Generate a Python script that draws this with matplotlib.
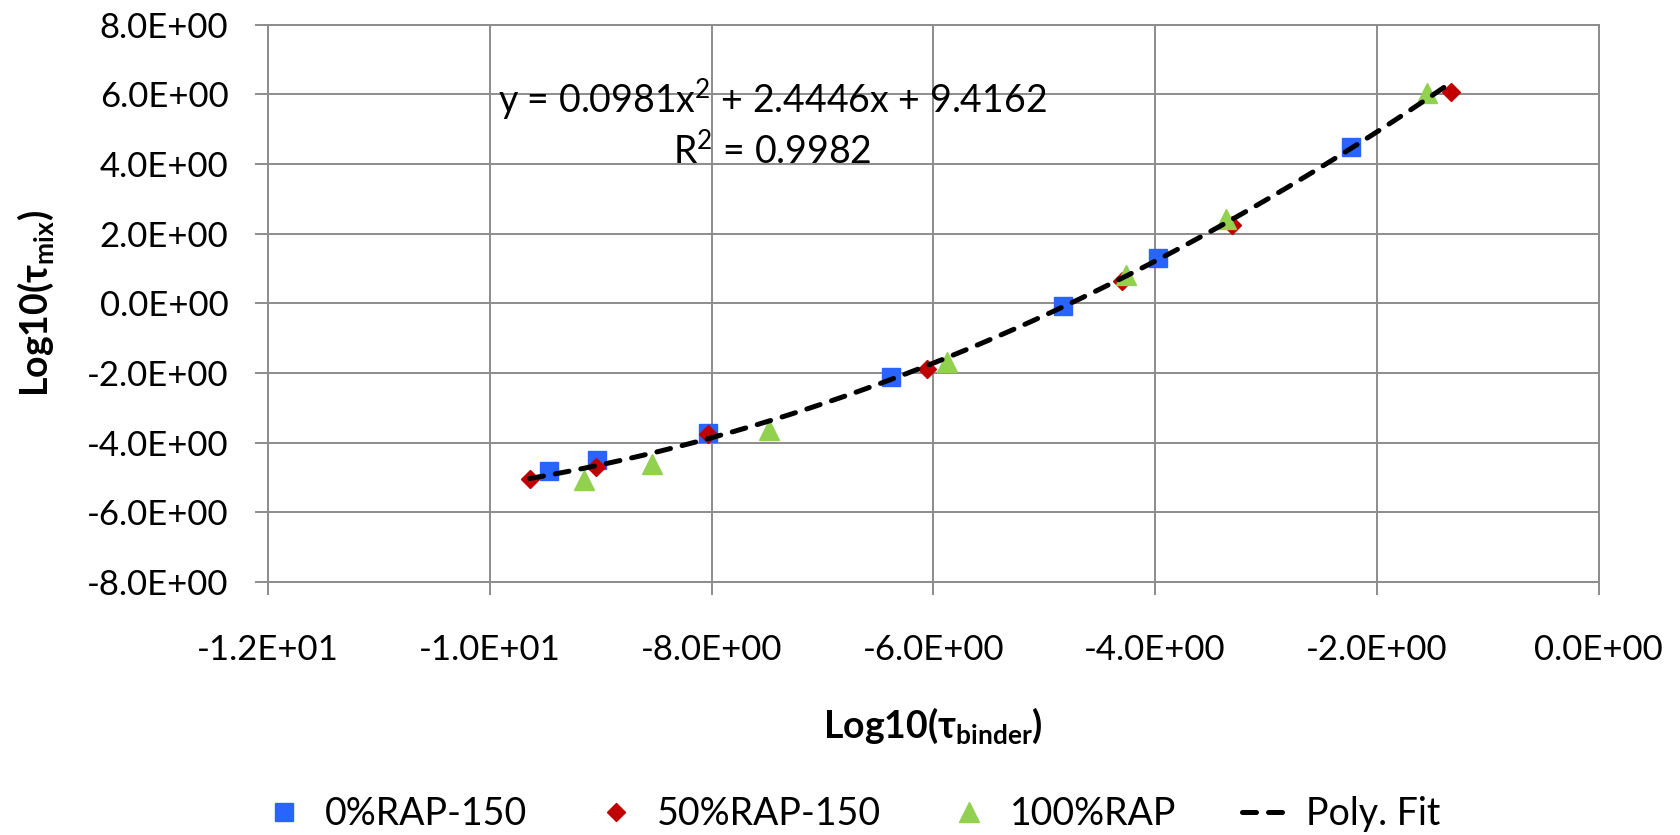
import matplotlib
matplotlib.use("Agg")
import matplotlib.pyplot as plt
import numpy as np
from matplotlib.ticker import FuncFormatter, MultipleLocator

plt.rcParams['font.family'] = ['Lato', 'DejaVu Sans']
plt.rcParams['mathtext.fontset'] = 'custom'
plt.rcParams['mathtext.rm'] = 'Lato'
plt.rcParams['mathtext.bf'] = 'Lato:bold'
plt.rcParams['mathtext.fallback'] = 'stixsans'

# data (log10 values)
x_rap0 = [-9.47, -9.03, -8.03, -6.38, -4.83, -3.97, -2.23]
y_rap0 = [-4.82, -4.51, -3.73, -2.13, -0.08, 1.29, 4.48]
x_rap50 = [-9.64, -9.04, -8.03, -6.06, -4.30, -3.31, -1.33]
y_rap50 = [-5.06, -4.70, -3.75, -1.88, 0.64, 2.24, 6.07]
x_rap100 = [-9.15, -8.54, -7.48, -5.88, -4.26, -3.36, -1.55]
y_rap100 = [-5.07, -4.61, -3.65, -1.69, 0.81, 2.43, 6.03]

# trendline coefficients as printed on the chart
fit_coef = [0.0981, 2.4446, 9.4162]
fit_r2 = 0.9982

grey = '#8c8c8c'

fig = plt.figure(figsize=(16.8, 8.35), dpi=100)
ax = fig.add_axes([0.1595, 0.3032, 0.7921, 0.6673])

ax.plot(x_rap0, y_rap0, 's', color='#2a64ff', markersize=13.5, label='0%RAP-150', zorder=3)
ax.plot(x_rap50, y_rap50, 'D', color='#c00000', markersize=9.6, label='50%RAP-150', zorder=4)
ax.plot(x_rap100, y_rap100, '^', color='#92d050', markersize=14, label='100%RAP', zorder=5)

all_x = x_rap0 + x_rap50 + x_rap100
xs = np.linspace(min(all_x), max(all_x), 200)
ax.plot(xs, np.polyval(fit_coef, xs), color='black', lw=3.6, dashes=(2.8, 2.4),
        dash_capstyle='round', label='Poly. Fit', zorder=6)

eq = r'y = %.4f$\mathregular{x^2}$ + %.4fx + %.4f' % tuple(fit_coef)
ax.text(-7.455, 5.85, eq, ha='center', va='center', fontsize=27)
ax.text(-7.455, 4.35, r'$\mathregular{R^2}$ = %.4f' % fit_r2, ha='center', va='center', fontsize=27)

ax.set_xlim(-12, 0)
ax.set_ylim(-8, 8)
ax.xaxis.set_major_locator(MultipleLocator(2))
ax.yaxis.set_major_locator(MultipleLocator(2))
fmt = FuncFormatter(lambda v, p: '%.1E' % v)
ax.xaxis.set_major_formatter(fmt)
ax.yaxis.set_major_formatter(fmt)
ax.grid(True, color=grey, lw=1.4, zorder=0)
ax.set_axisbelow(True)
for s in ax.spines.values():
    s.set_color(grey)
    s.set_linewidth(1.4)
ax.tick_params(direction='out', length=9.5, width=1.4, color=grey, labelsize=25)
ax.tick_params(axis='y', pad=19)
ax.tick_params(axis='x', pad=28)

ax.set_xlabel(r'$\mathbf{Log10(\tau_{binder})}$', fontsize=27, labelpad=29)
ax.set_ylabel(r'$\mathbf{Log10(\tau_{mix})}$', fontsize=27, labelpad=22)

fig.legend(loc='center', bbox_to_anchor=(851 / 1680, 1 - 814 / 835), ncol=4, frameon=False,
           fontsize=27, columnspacing=1.75, handletextpad=0.5, handlelength=1.2)

fig.savefig('out.png', dpi=100)
